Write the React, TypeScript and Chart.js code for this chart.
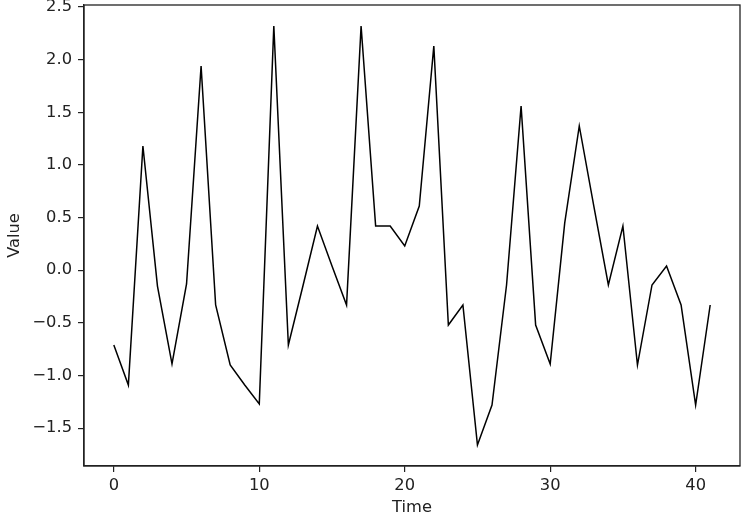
import React, { useEffect, useRef } from "react";
import { Chart, registerables } from "chart.js";

Chart.register(...registerables);

const timeSteps = [0, 1, 2, 3, 4, 5, 6, 7, 8, 9, 10, 11, 12, 13, 14, 15, 16, 17, 18, 19, 20, 21, 22, 23, 24, 25, 26, 27, 28, 29, 30, 31, 32, 33, 34, 35, 36, 37, 38, 39, 40, 41];
const values = [-0.71, -1.09, 1.18, -0.15, -0.89, -0.13, 1.94, -0.33, -0.9, -1.09, -1.27, 2.32, -0.71, -0.15, 0.42, 0.04, -0.33, 2.32, 0.42, 0.42, 0.23, 0.61, 2.13, -0.52, -0.33, -1.66, -1.28, -0.14, 1.56, -0.52, -0.89, 0.45, 1.37, 0.61, -0.14, 0.42, -0.9, -0.14, 0.04, -0.33, -1.28, -0.33];
const xTicks = [0, 10, 20, 30, 40];
const yTicks = [-1.5, -1.0, -0.5, 0.0, 0.5, 1.0, 1.5, 2.0, 2.5];
const xLabel = "Time";
const yLabel = "Value";

const FONT = "'DejaVu Sans', sans-serif";
const FS = 16.3;

const framePlugin = {
  id: "frame",
  afterDraw(chart: any) {
    const { ctx, chartArea } = chart;
    ctx.save();
    ctx.strokeStyle = "#222";
    ctx.lineWidth = 1.3;
    ctx.strokeRect(chartArea.left, chartArea.top, chartArea.right - chartArea.left, chartArea.bottom - chartArea.top);
    ctx.restore();
  },
};

export default function App() {
  const ref = useRef<HTMLCanvasElement | null>(null);
  useEffect(() => {
    if (!ref.current) return;
    const lo = Math.min(...values), hi = Math.max(...values);
    const ym = (hi - lo) * 0.05;
    const xlo = timeSteps[0], xhi = timeSteps[timeSteps.length - 1];
    const xm = (xhi - xlo) * 0.05;
    const chart = new Chart(ref.current, {
      type: "line",
      data: {
        datasets: [
          {
            data: timeSteps.map((t, i) => ({ x: t, y: values[i] })),
            borderColor: "#000",
            borderWidth: 1.5,
            pointRadius: 0,
            fill: false,
            tension: 0,
          },
        ],
      },
      plugins: [framePlugin],
      options: {
        animation: false,
        responsive: false,
        maintainAspectRatio: false,
        layout: { padding: { left: 0, right: 5, top: 5, bottom: 0 } },
        plugins: { legend: { display: false }, tooltip: { enabled: false } },
        scales: {
          x: {
            type: "linear",
            min: xlo - xm,
            max: xhi + xm,
            afterBuildTicks: (s: any) => {
              s.ticks = xTicks.map((v) => ({ value: v }));
            },
            afterFit: (s: any) => {
              s.height = 54;
              s.paddingLeft = 0;
              s.paddingRight = 0;
            },
            grid: { display: true, drawOnChartArea: false, drawTicks: true, tickLength: 6, color: "#222", lineWidth: 1.2 },
            border: { display: true, color: "#222", width: 1.3 },
            ticks: {
              color: "#222",
              font: { family: FONT, size: FS },
              padding: 4,
              maxRotation: 0,
              autoSkip: false,
              callback: (v: any) => String(v),
            },
            title: { display: true, text: xLabel, color: "#222", font: { family: FONT, size: FS }, padding: { top: 0, bottom: 2 } },
          },
          y: {
            type: "linear",
            min: lo - ym,
            max: hi + ym,
            afterBuildTicks: (s: any) => {
              s.ticks = yTicks.map((v) => ({ value: v }));
            },
            afterFit: (s: any) => {
              s.width = 84;
              s.paddingTop = 0;
              s.paddingBottom = 0;
            },
            grid: { display: true, drawOnChartArea: false, drawTicks: true, tickLength: 6, color: "#222", lineWidth: 1.2 },
            border: { display: true, color: "#222", width: 1.3 },
            ticks: {
              color: "#222",
              font: { family: FONT, size: FS },
              padding: 6,
              autoSkip: false,
              callback: (v: any) => Number(v).toFixed(1).replace("-", "\u2212"),
            },
            title: { display: true, text: yLabel, color: "#222", font: { family: FONT, size: FS }, padding: { top: 5, bottom: 0 } },
          },
        },
      },
    });
    return () => chart.destroy();
  }, []);
  return (
    <div style={{ position: "fixed", left: 0, top: 0, width: 745, height: 520, background: "#fff" }}>
      <canvas ref={ref} width={745} height={520} style={{ width: 745, height: 520, display: "block" }} />
    </div>
  );
}
